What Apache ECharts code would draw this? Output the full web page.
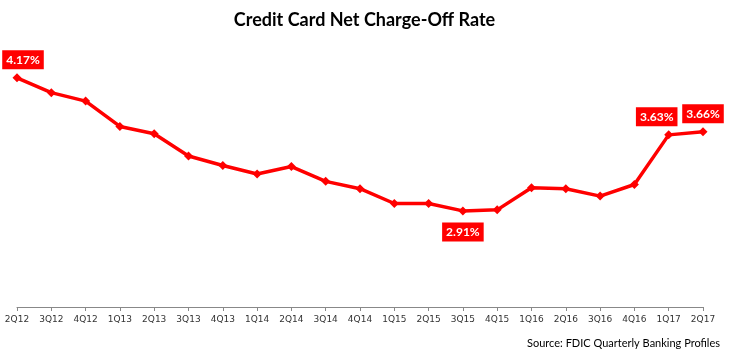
<!DOCTYPE html>
<html>
<head>
<meta charset="utf-8">
<script src="https://cdn.jsdelivr.net/npm/echarts@6/dist/echarts.min.js"></script>
<style>
  html, body { margin: 0; padding: 0; background: #fff; }
  #chart { width: 729px; height: 352px; }
</style>
</head>
<body>
<div id="chart"></div>
<script>
const quarters = ["2Q12", "3Q12", "4Q12", "1Q13", "2Q13", "3Q13", "4Q13", "1Q14", "2Q14", "3Q14", "4Q14",
  "1Q15", "2Q15", "3Q15", "4Q15", "1Q16", "2Q16", "3Q16", "4Q16", "1Q17", "2Q17"];
const chargeOffRate = [4.17, 4.03, 3.95, 3.71, 3.64, 3.43, 3.34, 3.26, 3.33, 3.19, 3.12,
  2.98, 2.98, 2.91, 2.92, 3.13, 3.12, 3.05, 3.16, 3.63, 3.66];
// callouts: quarter -> side and horizontal nudge
const callouts = {
  "2Q12": { position: "top", dx: 6 },
  "3Q15": { position: "bottom", dx: 0 },
  "1Q17": { position: "top", dx: -12 },
  "2Q17": { position: "top", dx: 0 },
};

const chart = echarts.init(document.getElementById("chart"));

const seriesData = chargeOffRate.map((value, i) => {
  const c = callouts[quarters[i]];
  if (!c) return value;
  return {
    value,
    label: {
      show: true,
      position: c.position,
      distance: c.position === "top" ? 4 : 7,
      offset: [c.dx, 0],
      formatter: (p) => p.value.toFixed(2) + "%",
    },
  };
});

chart.setOption({
  animation: false,
  title: {
    text: "Credit Card Net Charge-Off Rate",
    left: "center",
    top: 6,
    textStyle: { fontFamily: "Lato", fontSize: 18, fontWeight: "bold", color: "#000" },
  },
  grid: { left: 17, right: 26, top: 43, bottom: 45 },
  xAxis: {
    type: "category",
    data: quarters,
    boundaryGap: false,
    axisLine: { lineStyle: { color: "#888", width: 1 } },
    axisTick: { show: true, length: 4, lineStyle: { color: "#888" } },
    axisLabel: { fontFamily: "DejaVu Sans", fontSize: 9, color: "#333", margin: 8, interval: 0 },
  },
  yAxis: {
    type: "value",
    min: 2,
    max: 4.5,
    show: false,
  },
  graphic: [
    {
      type: "text",
      right: 9,
      bottom: 3,
      style: {
        text: "Source: FDIC Quarterly Banking Profiles",
        fontFamily: "Lato",
        fontSize: 11,
        fill: "#000",
      },
    },
  ],
  series: [
    {
      type: "line",
      data: seriesData,
      symbol: "diamond",
      symbolSize: 9,
      lineStyle: { color: "#ff0000", width: 3.5 },
      itemStyle: { color: "#ff0000" },
      label: {
        color: "#fff",
        fontFamily: "Lato",
        fontWeight: "bold",
        fontSize: 12,
        backgroundColor: "#ff0000",
        padding: [4, 4, 3, 4],
      },
    },
  ],
});
</script>
</body>
</html>
